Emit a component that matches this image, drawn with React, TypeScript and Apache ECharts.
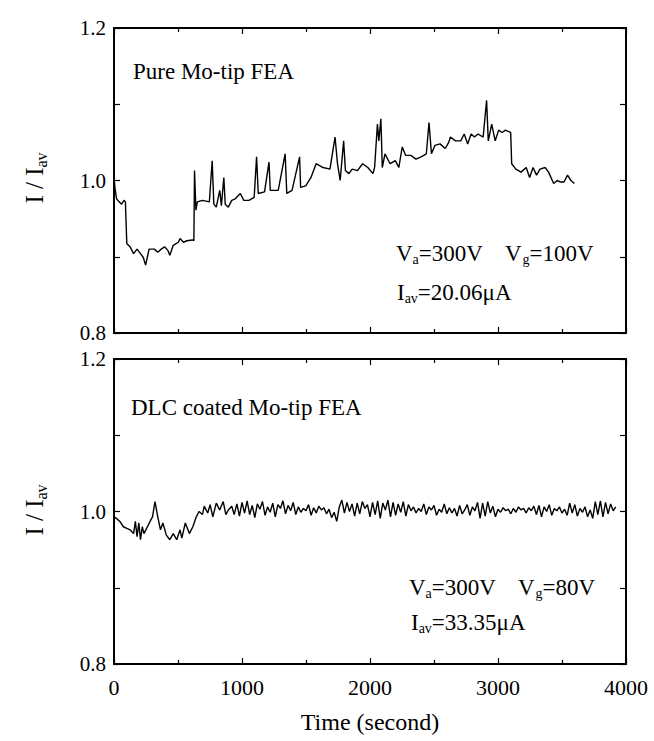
import React, { useEffect, useRef } from 'react';
import * as echarts from 'echarts';

const xTickValues = [0, 1000, 2000, 3000, 4000];
const yLabelValues = ['0.8', '1.0', '1.2'];

const pureMoTip: [number, number][] = [
  [0, 1.005], [8, 0.99], [20, 0.976], [40, 0.972], [59, 0.969], [78, 0.974], [89, 0.972],
  [100, 0.917], [126, 0.913], [153, 0.904], [180, 0.91], [207, 0.904], [229, 0.899], [247, 0.889],
  [274, 0.91], [315, 0.91], [342, 0.906], [369, 0.91], [395, 0.913], [422, 0.908], [436, 0.902],
  [463, 0.915], [503, 0.919], [516, 0.924], [543, 0.919], [570, 0.921], [611, 0.922], [624, 0.921],
  [629, 1.013], [640, 0.961], [651, 0.972], [691, 0.974], [745, 0.972], [767, 1.026], [780, 0.969],
  [799, 0.965], [826, 0.987], [839, 0.967], [858, 1.004], [869, 0.969], [893, 0.965], [920, 0.974],
  [947, 0.976], [987, 0.983], [1014, 0.974], [1054, 0.974], [1095, 0.978], [1114, 1.031], [1127, 0.983],
  [1176, 0.985], [1211, 1.024], [1221, 0.987], [1283, 0.987], [1337, 1.035], [1350, 0.983], [1391, 0.987],
  [1450, 1.031], [1458, 0.991], [1498, 0.993], [1539, 1.004], [1579, 1.022], [1633, 1.017], [1687, 1.015],
  [1727, 1.057], [1746, 1.022], [1767, 1.0], [1794, 1.052], [1808, 1.013], [1835, 1.009], [1861, 1.015],
  [1902, 1.013], [1942, 1.022], [1983, 1.017], [2023, 1.009], [2036, 1.017], [2058, 1.074], [2069, 1.052],
  [2085, 1.081], [2096, 1.017], [2117, 1.035], [2157, 1.022], [2198, 1.026], [2225, 1.017], [2252, 1.044],
  [2278, 1.033], [2319, 1.033], [2359, 1.028], [2399, 1.031], [2440, 1.035], [2461, 1.076], [2480, 1.035],
  [2507, 1.046], [2547, 1.048], [2588, 1.042], [2615, 1.05], [2628, 1.057], [2668, 1.052], [2709, 1.052],
  [2736, 1.061], [2763, 1.048], [2790, 1.061], [2816, 1.057], [2843, 1.061], [2884, 1.057], [2911, 1.105],
  [2924, 1.052], [2951, 1.074], [2978, 1.052], [3005, 1.066], [3032, 1.063], [3059, 1.066], [3099, 1.063],
  [3107, 1.022], [3139, 1.015], [3180, 1.011], [3220, 1.017], [3247, 1.004], [3274, 1.017], [3301, 1.007],
  [3328, 1.015], [3368, 1.017], [3395, 1.011], [3435, 0.996], [3462, 1.0], [3489, 0.998], [3516, 0.998],
  [3543, 1.007], [3570, 1.0], [3597, 0.996]
];

const dlcCoated: [number, number][] = [
  [0, 0.993], [19, 0.991], [46, 0.987], [73, 0.98], [100, 0.978], [126, 0.976], [153, 0.971], [167, 0.987],
  [180, 0.967], [194, 0.985], [207, 0.963], [221, 0.98], [234, 0.971], [261, 0.98], [288, 0.989], [301, 0.993],
  [320, 1.013], [342, 0.993], [363, 0.976], [382, 0.985], [409, 0.969], [436, 0.963], [463, 0.971], [490, 0.963],
  [516, 0.976], [530, 0.965], [557, 0.985], [589, 0.971], [616, 0.98], [643, 0.993], [664, 1.0], [691, 0.996],
  [705, 1.007], [732, 0.998], [751, 1.009], [772, 0.993], [799, 1.011], [826, 1.002], [853, 1.013], [874, 0.996],
  [893, 1.002], [920, 1.007], [939, 0.996],
  [960, 1.01], [980, 0.994], [1000, 1.012], [1020, 0.998], [1040, 1.014], [1060, 0.996], [1080, 1.008],
  [1100, 0.992], [1120, 1.01], [1140, 1.003], [1160, 1.013], [1180, 0.995], [1200, 1.006], [1220, 0.999],
  [1240, 1.011], [1260, 0.993], [1280, 1.009], [1300, 1.004], [1320, 1.014], [1340, 0.997], [1360, 1.008],
  [1380, 1.001], [1400, 1.012], [1420, 0.996], [1440, 1.006], [1460, 0.999], [1480, 1.004], [1500, 1.001],
  [1520, 1.009], [1540, 0.995], [1560, 1.005], [1580, 0.998], [1600, 1.007], [1620, 1.002], [1640, 1.005],
  [1660, 0.997], [1680, 1.003], [1700, 0.992], [1720, 0.999], [1740, 0.987], [1760, 1.006], [1780, 1.015],
  [1800, 0.998], [1820, 1.012], [1840, 1.0], [1860, 1.01], [1880, 0.994], [1900, 1.011], [1920, 0.997],
  [1940, 1.013], [1960, 1.004], [1980, 1.009], [2000, 0.993], [2020, 1.012], [2040, 0.996], [2060, 1.014],
  [2080, 0.991], [2100, 1.011], [2120, 1.002], [2140, 1.015], [2160, 0.993], [2180, 1.012], [2200, 0.995],
  [2220, 1.01], [2240, 0.999], [2260, 1.013], [2280, 0.994], [2300, 1.009], [2320, 1.001], [2340, 1.006],
  [2360, 0.998], [2380, 1.004], [2400, 1.0], [2420, 1.01], [2440, 0.996], [2460, 1.006], [2480, 1.002],
  [2500, 1.008], [2520, 0.995], [2540, 1.003], [2560, 0.999], [2580, 1.01], [2600, 0.997], [2620, 1.005],
  [2640, 0.998], [2660, 1.004], [2680, 0.994], [2700, 1.008], [2720, 0.997], [2740, 1.002], [2760, 1.009],
  [2780, 0.995], [2800, 1.006], [2820, 1.001], [2840, 1.012], [2860, 0.991], [2880, 1.011], [2900, 0.994],
  [2920, 1.013], [2940, 0.998], [2960, 1.007], [2980, 0.993], [3000, 1.003], [3020, 0.999], [3040, 1.005],
  [3060, 1.001], [3080, 1.003], [3100, 0.997], [3120, 1.004], [3140, 0.999], [3160, 1.006], [3180, 1.002],
  [3200, 1.004], [3220, 0.998], [3240, 1.005], [3260, 1.001], [3280, 1.007], [3300, 0.996], [3320, 1.008],
  [3340, 0.993], [3360, 1.006], [3380, 1.0], [3400, 1.009], [3420, 0.995], [3440, 1.004], [3460, 1.001],
  [3480, 1.006], [3500, 0.998], [3520, 1.003], [3540, 0.995], [3560, 1.011], [3580, 0.998], [3600, 1.009],
  [3620, 0.994], [3640, 1.004], [3660, 0.999], [3680, 1.006], [3700, 0.993], [3720, 1.002], [3740, 0.991],
  [3760, 1.013], [3780, 0.996], [3800, 1.014], [3820, 0.993], [3840, 1.012], [3860, 0.997], [3880, 1.01],
  [3900, 1.001], [3920, 1.006]
];

const FONT = 'Liberation Serif';

export default function App() {
  const ref = useRef<HTMLDivElement>(null);
  useEffect(() => {
    document.body.style.margin = '0';
    const chart = echarts.init(ref.current!, null, { renderer: 'svg' });
    const axisLine = { show: true, onZero: false, lineStyle: { color: '#000', width: 2 } };
    const tickStyle = { color: '#000', width: 1.2 };
    const xAxis = (gridIndex: number, position: string, showLabel: boolean) => ({
      type: 'value', gridIndex, position, min: 0, max: 4000, interval: 1000,
      axisLine,
      axisTick: { show: true, inside: true, length: 6, lineStyle: tickStyle },
      minorTick: { show: true, splitNumber: 2, length: 4, lineStyle: tickStyle },
      splitLine: { show: false },
      axisLabel: {
        show: showLabel, color: '#000', fontFamily: FONT, fontSize: 22, margin: 12,
        formatter: (v: number) => (xTickValues.includes(v) ? String(v) : '')
      }
    });
    const yAxis = (gridIndex: number, position: string, showLabel: boolean) => ({
      type: 'value', gridIndex, position, min: 0.8, max: 1.2, interval: 0.1,
      axisLine,
      axisTick: { show: true, inside: true, length: 6, lineStyle: tickStyle },
      splitLine: { show: false },
      axisLabel: {
        show: showLabel, color: '#000', fontFamily: FONT, fontSize: 21, margin: 8,
        padding: [0, 0, 6, 0],
        formatter: (v: number) => {
          const s = (Math.round(v * 10) / 10).toFixed(1);
          return yLabelValues.includes(s) ? s : '';
        }
      }
    });
    const mainText = { fontFamily: FONT, fontSize: 23, fill: '#000' };
    const rich = {
      m: { fontFamily: FONT, fontSize: 23, color: '#000' },
      s: { fontFamily: FONT, fontSize: 14, color: '#000', padding: [13, 0, 0, 0] }
    };
    const nameRich = {
      m: { fontFamily: FONT, fontSize: 25, color: '#000' },
      s: { fontFamily: FONT, fontSize: 16, color: '#000', padding: [14, 0, 0, 0] }
    };
    const text = (x: number, y: number, str: string, r: any = rich, extra: any = {}) => ({
      type: 'text', x, y, ...extra,
      style: { text: str, rich: r, ...mainText, verticalAlign: 'middle', align: 'left' }
    });
    chart.setOption({
      animation: false,
      grid: [
        { left: 114, top: 28, width: 512, height: 305 },
        { left: 114, top: 359, width: 512, height: 305 }
      ],
      xAxis: [xAxis(0, 'bottom', false), xAxis(0, 'top', false), xAxis(1, 'bottom', true), xAxis(1, 'top', false)],
      yAxis: [yAxis(0, 'left', true), yAxis(0, 'right', false), yAxis(1, 'left', true), yAxis(1, 'right', false)],
      series: [
        {
          type: 'line', xAxisIndex: 0, yAxisIndex: 0, data: pureMoTip, showSymbol: false,
          lineStyle: { color: '#000', width: 1.4 }
        },
        {
          type: 'line', xAxisIndex: 2, yAxisIndex: 2, data: dlcCoated, showSymbol: false,
          lineStyle: { color: '#000', width: 1.4 }
        }
      ],
      graphic: [
        text(133, 71, '{m|Pure Mo-tip FEA}'),
        text(396, 253, '{m|V}{s|a}{m|=300V    V}{s|g}{m|=100V}'),
        text(397, 292, '{m|I}{s|av}{m|=20.06μA}'),
        text(131, 407, '{m|DLC coated Mo-tip FEA}'),
        text(409, 587, '{m|V}{s|a}{m|=300V    V}{s|g}{m|=80V}'),
        text(411, 622, '{m|I}{s|av}{m|=33.35μA}'),
        {
          type: 'text', x: 370, y: 722,
          style: { text: 'Time (second)', fontFamily: FONT, fontSize: 24, fill: '#000', align: 'center', verticalAlign: 'middle' }
        },
        {
          type: 'text', x: 34, y: 178, rotation: Math.PI / 2,
          style: { text: '{m|I / I}{s|av}', rich: nameRich, fontFamily: FONT, fontSize: 25, fill: '#000', align: 'center', verticalAlign: 'middle' }
        },
        {
          type: 'text', x: 34, y: 510, rotation: Math.PI / 2,
          style: { text: '{m|I / I}{s|av}', rich: nameRich, fontFamily: FONT, fontSize: 25, fill: '#000', align: 'center', verticalAlign: 'middle' }
        }
      ]
    });
    return () => chart.dispose();
  }, []);
  return <div ref={ref} style={{ width: 654, height: 741 }} />;
}
